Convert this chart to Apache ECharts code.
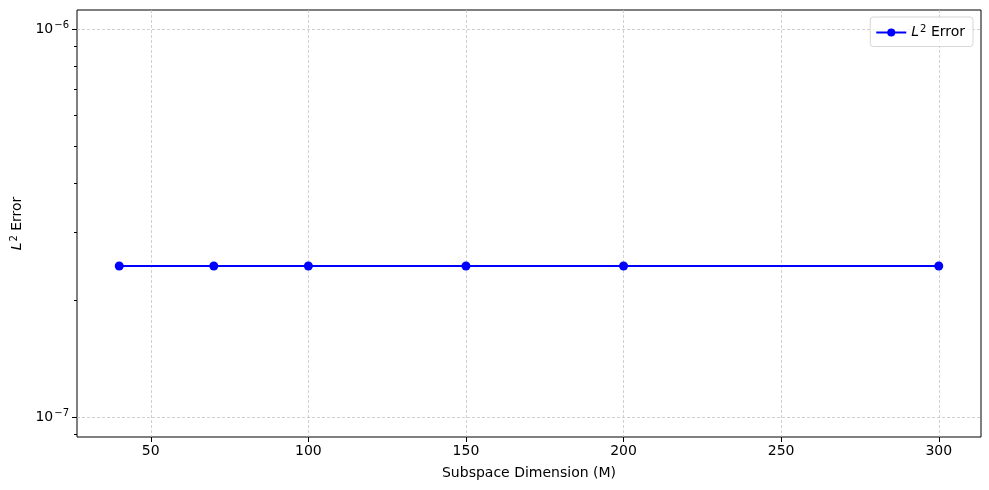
<!DOCTYPE html>
<html>
<head>
<meta charset="utf-8">
<script src="https://cdn.jsdelivr.net/npm/echarts@6/dist/echarts.min.js"></script>
<style>
  html, body { margin: 0; padding: 0; background: #fff; }
  #chart { width: 989px; height: 490px; }
</style>
</head>
<body>
<div id="chart"></div>
<script>
// data
const dims = [40, 70, 100, 150, 200, 300];
const l2Error = [2.45e-7, 2.45e-7, 2.45e-7, 2.45e-7, 2.45e-7, 2.45e-7];
const xTicks = [50, 100, 150, 200, 250, 300];
const yMajorTicks = [1e-7, 1e-6];
const yMinorTicks = [9e-8, 2e-7, 3e-7, 4e-7, 5e-7, 6e-7, 7e-7, 8e-7, 9e-7];

const FONT = "DejaVu Sans";
const FS = 14;
const gridLine = { show: true, lineStyle: { color: "#c4c4c4", width: 0.8, type: [3, 2] } };
const supRich = {
  i: { fontFamily: FONT, fontStyle: "italic", fontSize: FS, color: "#000" },
  s: { fontFamily: FONT, fontSize: 10, color: "#000", verticalAlign: "bottom", padding: [0, 0, 7, 1] }
};

const chart = echarts.init(document.getElementById("chart"));

const option = {
  animation: false,
  textStyle: { fontFamily: FONT },
  grid: {
    left: 77, right: 8, top: 10, bottom: 53,
    show: true, borderColor: "#000", borderWidth: 1
  },
  legend: {
    right: 16, top: 17,
    orient: "vertical",
    itemWidth: 30, itemHeight: 10,
    padding: [7, 8, 7, 5],
    itemGap: 8,
    borderColor: "#d6d6d6", borderWidth: 1, borderRadius: 3,
    backgroundColor: "rgba(255,255,255,0.8)",
    formatter: () => "{i|L}{s|2} Error",
    textStyle: { fontFamily: FONT, fontSize: FS, color: "#000", rich: supRich }
  },
  xAxis: {
    type: "value",
    min: 26.6, max: 313.4,
    name: "Subspace Dimension (M)",
    nameLocation: "middle",
    nameGap: 29,
    nameTextStyle: { fontFamily: FONT, fontSize: FS, color: "#000" },
    axisLine: { show: false },
    axisTick: { show: true, customValues: xTicks, length: 5, lineStyle: { color: "#000" } },
    axisLabel: { customValues: xTicks, fontFamily: FONT, fontSize: FS, color: "#000", margin: 7 },
    splitLine: gridLine
  },
  yAxis: [
    {
      type: "log",
      min: 8.88e-8, max: 1.119e-6,
      name: "{i|L}{s|2} Error",
      nameLocation: "middle",
      nameGap: 46,
      nameRotate: 90,
      nameTextStyle: { fontFamily: FONT, fontSize: FS, color: "#000", rich: supRich },
      axisLine: { show: false },
      axisTick: { show: true, customValues: yMajorTicks, length: 5, lineStyle: { color: "#000" } },
      axisLabel: {
        customValues: yMajorTicks,
        margin: 8,
        formatter: (v) => "{b|10}{e|\u2212" + Math.abs(Math.round(Math.log10(v))) + "}",
        rich: {
          b: { fontFamily: FONT, fontSize: FS, color: "#000" },
          e: { fontFamily: FONT, fontSize: 10, color: "#000", verticalAlign: "bottom", padding: [0, 0, 8, 1] }
        }
      },
      splitLine: gridLine,
      minorTick: { show: false },
      minorSplitLine: { show: false }
    },
    {
      type: "log",
      min: 8.88e-8, max: 1.119e-6,
      position: "left",
      axisLine: { show: false },
      axisTick: { show: true, customValues: yMinorTicks, length: 3, lineStyle: { color: "#000" } },
      axisLabel: { show: false },
      splitLine: { show: false }
    }
  ],
  series: [
    {
      name: "L2 Error",
      type: "line",
      yAxisIndex: 0,
      data: dims.map((d, i) => [d, l2Error[i]]),
      symbol: "circle",
      symbolSize: 9,
      showSymbol: true,
      color: "#0000ff",
      lineStyle: { color: "#0000ff", width: 2 },
      itemStyle: { color: "#0000ff" }
    }
  ]
};

chart.setOption(option);
</script>
</body>
</html>
